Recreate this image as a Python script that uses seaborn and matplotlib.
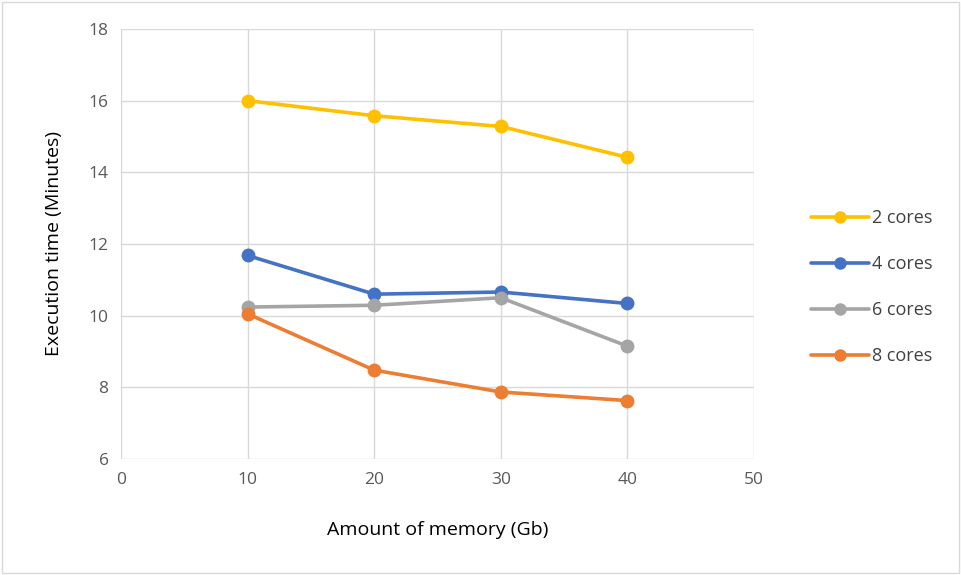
import matplotlib
matplotlib.use("Agg")
import matplotlib.pyplot as plt
import seaborn as sns
import pandas as pd
from matplotlib.patches import Rectangle

memory = [10, 20, 30, 40]
series_names = ["2 cores", "4 cores", "6 cores", "8 cores"]
cores2 = [16.0, 15.58, 15.28, 14.42]
cores4 = [11.68, 10.6, 10.66, 10.34]
cores6 = [10.24, 10.29, 10.5, 9.15]
cores8 = [10.05, 8.48, 7.87, 7.63]
colors = ["#FFC000", "#4472C4", "#A5A5A5", "#ED7D31"]
xticks = [0, 10, 20, 30, 40, 50]
yticks = [6, 8, 10, 12, 14, 16, 18]

rows = []
for name, vals in zip(series_names, [cores2, cores4, cores6, cores8]):
    for m, v in zip(memory, vals):
        rows.append({"memory": m, "time": v, "cores": name})
df = pd.DataFrame(rows)

sns.set_theme(style="white")
plt.rcParams['font.family'] = ['Open Sans', 'DejaVu Sans']

fig = plt.figure(figsize=(9.61, 5.75), dpi=100)
ax = fig.add_axes([121/961, 1-459/575, (754-121)/961, (459-29)/575])

sns.lineplot(data=df, x="memory", y="time", hue="cores", palette=colors,
             marker="o", markersize=10, markeredgewidth=0, linewidth=2.6,
             ax=ax, legend=True)

ax.set_xlim(0, 50)
ax.set_ylim(6, 18)
ax.set_xticks(xticks)
ax.set_yticks(yticks)
ax.grid(True, color="#d9d9d9", linewidth=1)
ax.set_axisbelow(True)
for s in ax.spines.values():
    s.set_visible(False)
ax.tick_params(axis="both", length=0, labelsize=12.5, labelcolor="#595959", pad=9)
ax.set_xlabel("Amount of memory (Gb)", fontsize=14, color="#000000", labelpad=24)
ax.set_ylabel("Execution time (Minutes)", fontsize=14, color="#000000", labelpad=18)

handles, labels = ax.get_legend_handles_labels()
ax.legend_.remove()
fig.legend(handles, labels, loc="center left", bbox_to_anchor=(795/961, 1-287/575),
           frameon=False, fontsize=13, labelcolor="#404040", handlelength=3.2,
           handletextpad=0.15, labelspacing=1.55, markerscale=0.9)

fig.patches.append(Rectangle((0.002, 0.003), 0.996, 0.994, transform=fig.transFigure,
                             fill=False, edgecolor="#d9d9d9", linewidth=1))

fig.savefig("out.png", dpi=100)
